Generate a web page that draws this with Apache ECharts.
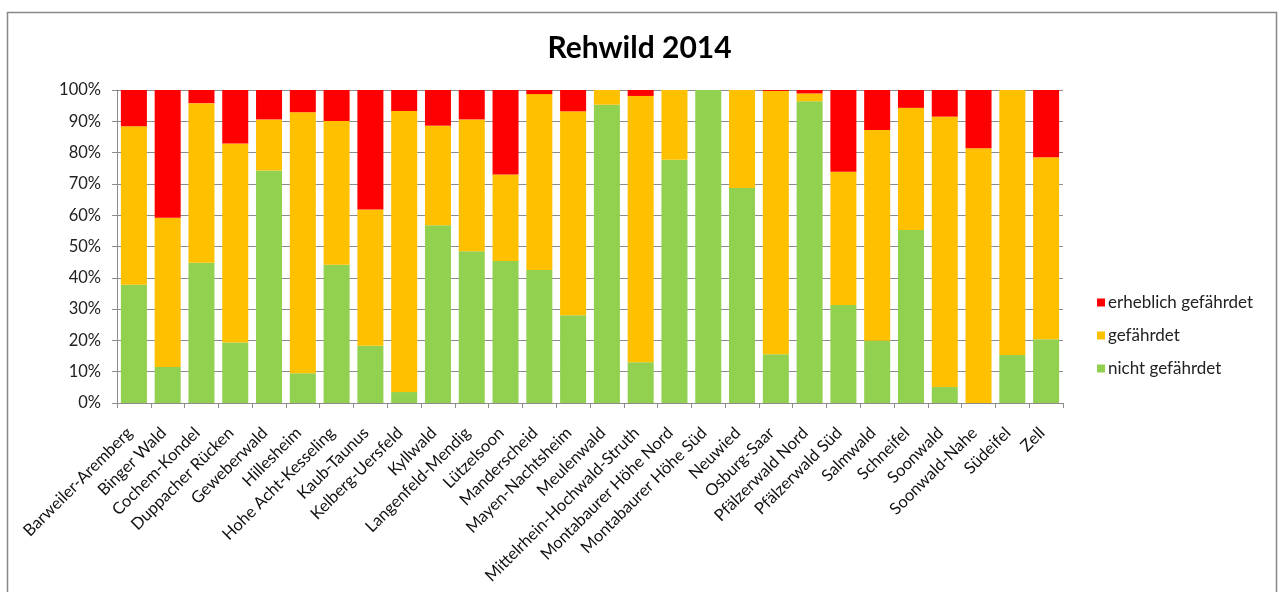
<!DOCTYPE html>
<html>
<head>
<meta charset="utf-8">
<script src="https://cdn.jsdelivr.net/npm/echarts@6/dist/echarts.min.js"></script>
<style>
  html, body { margin: 0; padding: 0; background: #fff; }
  #chart { width: 1279px; height: 592px; }
</style>
</head>
<body>
<div id="chart"></div>
<script>
// Hegeringe / Wildräume
const categories = [
  'Barweiler-Aremberg', 'Binger Wald', 'Cochem-Kondel', 'Duppacher Rücken',
  'Geweberwald', 'Hillesheim', 'Hohe Acht-Kesseling', 'Kaub-Taunus',
  'Kelberg-Uersfeld', 'Kyllwald', 'Langenfeld-Mendig', 'Lützelsoon',
  'Manderscheid', 'Mayen-Nachtsheim', 'Meulenwald', 'Mittelrhein-Hochwald-Struth',
  'Montabaurer Höhe Nord', 'Montabaurer Höhe Süd', 'Neuwied', 'Osburg-Saar',
  'Pfälzerwald Nord', 'Pfälzerwald Süd', 'Salmwald', 'Schneifel',
  'Soonwald', 'Soonwald-Nahe', 'Südeifel', 'Zell'
];

// Anteile in Prozent
const nichtGefaehrdet = [
  37.8, 11.5, 44.8, 19.3, 74.3, 9.5, 44.2, 18.3, 3.5, 56.8,
  48.5, 45.4, 42.5, 28.0, 95.3, 13.0, 77.7, 100, 68.7, 15.6,
  96.4, 31.3, 19.9, 55.3, 5.1, 0, 15.3, 20.4
];
const gefaehrdet = [
  50.6, 47.7, 51.0, 63.6, 16.3, 83.4, 45.9, 43.5, 89.8, 31.8,
  42.1, 27.6, 56.2, 65.2, 4.7, 85.1, 22.3, 0, 31.3, 84.1,
  2.5, 42.6, 67.3, 39.0, 86.4, 81.4, 84.7, 58.1
];
const erheblichGefaehrdet = [
  11.6, 40.8, 4.2, 17.1, 9.4, 7.1, 9.9, 38.2, 6.7, 11.4,
  9.4, 27.0, 1.3, 6.8, 0, 1.9, 0, 0, 0, 0.3,
  1.1, 26.1, 12.8, 5.7, 8.5, 18.6, 0, 21.5
];

const font = 'Lato, "Open Sans", sans-serif';
const chart = echarts.init(document.getElementById('chart'), null, { renderer: 'canvas' });

const barSeries = (name, data, color) => ({
  name, type: 'bar', stack: 'total', data,
  barWidth: '77%',
  itemStyle: { color },
  emphasis: { disabled: true }
});

chart.setOption({
  animation: false,
  backgroundColor: '#fff',
  title: {
    text: 'Rehwild 2014',
    left: 'center', top: 28,
    textStyle: { fontFamily: font, fontSize: 30, fontWeight: 'bold', color: '#000' }
  },
  legend: {
    orient: 'vertical',
    left: 1092, top: 289,
    itemWidth: 8, itemHeight: 8, itemGap: 16,
    icon: 'rect',
    data: ['erheblich gefährdet', 'gefährdet', 'nicht gefährdet'],
    textStyle: { fontFamily: font, fontSize: 17, color: '#222', padding: [0, 0, 0, -2] }
  },
  grid: { left: 117, right: 216, top: 90, bottom: 189, containLabel: false },
  xAxis: {
    type: 'category',
    data: categories,
    axisLine: { lineStyle: { color: '#8c8c8c', width: 1 } },
    axisTick: { show: true, length: 5, lineStyle: { color: '#8c8c8c' } },
    axisLabel: {
      interval: 0, rotate: 45, margin: 23,
      padding: [0, 6, 0, 0],
      fontFamily: font, fontSize: 16.5, color: '#111'
    }
  },
  yAxis: {
    type: 'value', min: 0, max: 100, interval: 10,
    axisLine: { show: true, lineStyle: { color: '#8c8c8c', width: 1 } },
    axisTick: { show: true, length: 5, lineStyle: { color: '#8c8c8c' } },
    splitLine: { lineStyle: { color: '#8c8c8c', width: 1 } },
    axisLabel: {
      formatter: '{value}%', margin: 16,
      fontFamily: font, fontSize: 16.5, color: '#222'
    }
  },
  series: [
    barSeries('nicht gefährdet', nichtGefaehrdet, '#92D050'),
    barSeries('gefährdet', gefaehrdet, '#FFC000'),
    barSeries('erheblich gefährdet', erheblichGefaehrdet, '#FF0000')
  ],
  graphic: [{
    type: 'rect', silent: true, z: -1,
    shape: { x: 7.5, y: 12.5, width: 1269, height: 600 },
    style: { fill: 'none', stroke: '#888', lineWidth: 1.5 }
  }]
});
</script>
</body>
</html>
